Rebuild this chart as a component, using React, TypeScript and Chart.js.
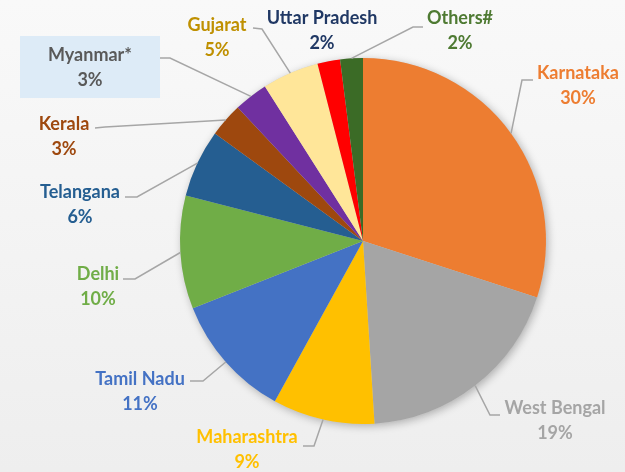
import React, { useEffect, useRef } from "react";
import { Chart, registerables } from "chart.js";

Chart.register(...registerables);

const states = [
  "Karnataka",
  "West Bengal",
  "Maharashtra",
  "Tamil Nadu",
  "Delhi",
  "Telangana",
  "Kerala",
  "Myanmar*",
  "Gujarat",
  "Uttar Pradesh",
  "Others#",
];
const shares = [30, 19, 9, 11, 10, 6, 3, 3, 5, 2, 2];
const sliceColors = [
  "#ED7D31",
  "#A5A5A5",
  "#FFC000",
  "#4472C4",
  "#70AD47",
  "#255E91",
  "#9E480E",
  "#7030A0",
  "#FFE699",
  "#FF0000",
  "#3B6B26",
];
const labelColors = [
  "#ED7D31",
  "#A5A5A5",
  "#FFC000",
  "#4472C4",
  "#70AD47",
  "#255E91",
  "#9E480E",
  "#595959",
  "#BF9000",
  "#203864",
  "#4E7A32",
];

// Layout of label blocks (offsets from pie centre, px): text centre, leader elbow, leader end
type LabelLayout = { tx: number; ty: number; ex?: number; ey?: number; hx?: number; hy?: number; box?: [number, number, number, number] };
const labelLayout: LabelLayout[] = [
  { tx: 215, ty: -168, ex: 159, ey: -161, hx: 170, hy: -161 },
  { tx: 192, ty: 167, ex: 127, ey: 174, hx: 137, hy: 174 },
  { tx: -116, ty: 196, ex: -49, ey: 205, hx: -60, hy: 205 },
  { tx: -223, ty: 138, ex: -160, ey: 140, hx: -173, hy: 140 },
  { tx: -265, ty: 33, ex: -228, ey: 38, hx: -240, hy: 38 },
  { tx: -283, ty: -49, ex: -226, ey: -44, hx: -238, hy: -44 },
  { tx: -299, ty: -117, ex: -258, ey: -114, hx: -268, hy: -113 },
  { tx: -273, ty: -186, ex: -193, ey: -183, hx: -203, hy: -183, box: [-343, -205, 140, 62] },
  { tx: -146, ty: -216, ex: -101, ey: -212, hx: -110, hy: -213 },
  { tx: -41, ty: -223 },
  { tx: 97, ty: -223, ex: 50, ey: -214, hx: 60, hy: -214 },
];

const FONT = "bold 18px Lato, 'Open Sans', sans-serif";

const shadowPlugin = {
  id: "pieShadow",
  beforeDatasetsDraw(chart: any) {
    const meta = chart.getDatasetMeta(0);
    const arc = meta.data[0];
    if (!arc) return;
    const ctx = chart.ctx;
    ctx.save();
    ctx.beginPath();
    ctx.arc(arc.x, arc.y, arc.outerRadius, 0, Math.PI * 2);
    ctx.shadowColor = "rgba(0,0,0,0.28)";
    ctx.shadowBlur = 9;
    ctx.shadowOffsetX = 2;
    ctx.shadowOffsetY = 2;
    ctx.fillStyle = "#cccccc";
    ctx.fill();
    ctx.restore();
  },
};

const labelPlugin = {
  id: "outLabels",
  afterDatasetsDraw(chart: any) {
    const meta = chart.getDatasetMeta(0);
    const ctx = chart.ctx;
    const data = chart.data.datasets[0].data as number[];
    const total = data.reduce((a: number, b: number) => a + b, 0);
    meta.data.forEach((arc: any, i: number) => {
      const L = labelLayout[i];
      const cx = arc.x;
      const cy = arc.y;
      ctx.save();
      if (L.box) {
        ctx.fillStyle = "#DDEBF7";
        ctx.fillRect(cx + L.box[0], cy + L.box[1], L.box[2], L.box[3]);
      }
      if (L.ex !== undefined) {
        const mid = (arc.startAngle + arc.endAngle) / 2;
        const sx = cx + Math.cos(mid) * arc.outerRadius;
        const sy = cy + Math.sin(mid) * arc.outerRadius;
        ctx.strokeStyle = "#A6A6A6";
        ctx.lineWidth = 1.5;
        ctx.beginPath();
        ctx.moveTo(sx, sy);
        ctx.lineTo(cx + L.ex, cy + (L.ey as number));
        ctx.lineTo(cx + (L.hx as number), cy + (L.hy as number));
        ctx.stroke();
      }
      ctx.fillStyle = labelColors[i];
      ctx.font = FONT;
      ctx.textAlign = "center";
      ctx.textBaseline = "middle";
      const pct = Math.round((data[i] / total) * 100) + "%";
      ctx.fillText(chart.data.labels[i], cx + L.tx, cy + L.ty);
      ctx.fillText(pct, cx + L.tx, cy + L.ty + 25);
      ctx.restore();
    });
  },
};

export default function App() {
  const ref = useRef<HTMLCanvasElement | null>(null);
  useEffect(() => {
    if (!ref.current) return;
    const chart = new Chart(ref.current, {
      type: "pie",
      data: {
        labels: states,
        datasets: [
          {
            data: shares,
            backgroundColor: sliceColors,
            borderWidth: 0,
            hoverOffset: 0,
          },
        ],
      },
      options: {
        animation: false,
        responsive: false,
        maintainAspectRatio: false,
        layout: { padding: { left: 180, right: 79, top: 58, bottom: 48 } },
        plugins: {
          legend: { display: false },
          tooltip: { enabled: false },
        },
      },
      plugins: [shadowPlugin, labelPlugin],
    });
    return () => chart.destroy();
  }, []);
  return (
    <div
      style={{
        position: "fixed",
        left: 0,
        top: 0,
        width: 625,
        height: 472,
        background: "linear-gradient(#f9f9f9, #eeeeee)",
      }}
    >
      <canvas ref={ref} width={625} height={472} style={{ display: "block" }} />
    </div>
  );
}
